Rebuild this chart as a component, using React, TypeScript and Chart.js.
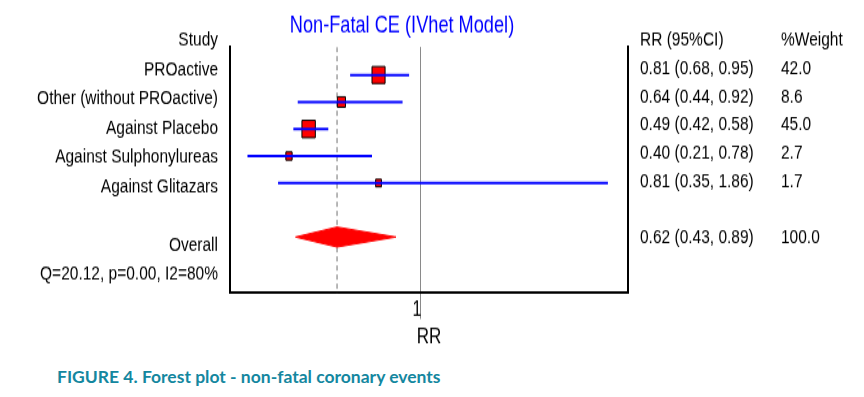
import React, { useEffect, useRef } from "react";
import { Chart, registerables } from "chart.js";

Chart.register(...registerables);

// ---------------- data ----------------
const studyLabels = [
  "PROactive",
  "Other (without PROactive)",
  "Against Placebo",
  "Against Sulphonylureas",
  "Against Glitazars",
];
const studyRR = [0.81, 0.64, 0.49, 0.4, 0.81];
const studyLower = [0.68, 0.44, 0.42, 0.21, 0.35];
const studyUpper = [0.95, 0.92, 0.58, 0.78, 1.86];
const studyWeight = [42.0, 8.6, 45.0, 2.7, 1.7];

const overallLabel = "Overall";
const overallRR = 0.62;
const overallLower = 0.43;
const overallUpper = 0.89;
const overallWeight = 100.0;
const heterogeneityLabel = "Q=20.12, p=0.00, I2=80%";

const xTickValues = [1];
const chartTitle = "Non-Fatal CE (IVhet Model)";
const xAxisTitle = "RR";
const studyHeader = "Study";
const ciHeader = "RR (95%CI)";
const weightHeader = "%Weight";
const figureCaption = "FIGURE 4. Forest plot - non-fatal coronary events";

// ---------------- layout / style ----------------
const STRETCH = 1.3; // the original picture is stretched vertically
const W = 864;
const H = 280; // unstretched canvas height
const CHART_TOP = 36.15;
const CHART_BOTTOM = 225.4;
const LEFT_W = 230;
const CI_W = 141;
const WEIGHT_W = 95;

const HEADER_ROW = 0;
const OVERALL_ROW = 7;
const HET_ROW = 8;
const studyRows = studyLabels.map((_, i) => i + 1);

const Y_MAIN = { min: -0.037, max: 9.074 };
const Y_LEFT = { min: 0.239, max: 8.635 };
const Y_RIGHT = { min: 0.247, max: 8.94 };
const X_RANGE = { min: 0.13, max: 1.952 };

const FONT = "'Liberation Sans', Arial, Helvetica, sans-serif";
const TEXT_SIZE = 15.5;
const BLUE = "#0000ff";
const RED = "#ff0000";
const DIAMOND_HALF = 0.37;

const boxSide = (w: number) => 4 + 1.4 * Math.sqrt(w);

const fmt2 = (v: number) => v.toFixed(2);
const ciText = (r: number, lo: number, hi: number) =>
  `${fmt2(r)} (${fmt2(lo)}, ${fmt2(hi)})`;

const leftLabels = new Map<number, string>([
  [HEADER_ROW, studyHeader],
  ...studyRows.map((r, i) => [r, studyLabels[i]] as [number, string]),
  [OVERALL_ROW, overallLabel],
  [HET_ROW, heterogeneityLabel],
]);
const ciLabels = new Map<number, string>([
  [HEADER_ROW, ciHeader],
  ...studyRows.map(
    (r, i) => [r, ciText(studyRR[i], studyLower[i], studyUpper[i])] as [number, string]
  ),
  [OVERALL_ROW, ciText(overallRR, overallLower, overallUpper)],
]);
const weightLabels = new Map<number, string>([
  [HEADER_ROW, weightHeader],
  ...studyRows.map((r, i) => [r, studyWeight[i].toFixed(1)] as [number, string]),
  [OVERALL_ROW, overallWeight.toFixed(1)],
]);

const labelAxis = (
  labels: Map<number, string>,
  range: { min: number; max: number },
  position: "left" | "right",
  width: number,
  weight: number,
  border: boolean
) => ({
  type: "linear",
  position,
  weight,
  reverse: true,
  min: range.min,
  max: range.max,
  grid: { display: false, drawTicks: false, tickLength: 0 },
  border: { display: border, color: "#000", width: 2 },
  ticks: {
    autoSkip: false,
    padding: 12,
    color: "#000",
    font: { family: FONT, size: TEXT_SIZE },
    callback: (v: number) => labels.get(v) ?? "",
  },
  afterBuildTicks: (s: any) => {
    s.ticks = Array.from(labels.keys()).map((v) => ({ value: v }));
  },
  afterFit: (s: any) => {
    s.width = width;
  },
});

const titlePlugin = {
  id: "forestTitle",
  afterDraw(chart: any) {
    const { ctx, chartArea } = chart;
    ctx.save();
    ctx.font = `18.2px ${FONT}`;
    ctx.fillStyle = BLUE;
    ctx.textAlign = "center";
    ctx.textBaseline = "middle";
    ctx.fillText(chartTitle, (chartArea.left + chartArea.right) / 2 - 27, 20.3);
    ctx.restore();
  },
};

export default function App() {
  const canvasRef = useRef<HTMLCanvasElement | null>(null);

  useEffect(() => {
    if (!canvasRef.current) return;

    const ciDatasets = studyRows.map((row, i) => ({
      type: "line",
      data: [
        { x: studyLower[i], y: row },
        { x: studyUpper[i], y: row },
      ],
      borderColor: BLUE,
      borderWidth: 2,
      pointRadius: 0,
      fill: false,
    }));

    const boxDataset = {
      type: "scatter",
      data: studyRows.map((row, i) => ({ x: studyRR[i], y: row })),
      pointStyle: "rect",
      pointRadius: studyWeight.map((w) => boxSide(w) / Math.SQRT2),
      backgroundColor: RED,
      borderColor: "#000",
      borderWidth: 1,
    };

    const diamondDataset = {
      type: "line",
      data: [
        { x: overallLower, y: OVERALL_ROW },
        { x: overallRR, y: OVERALL_ROW - DIAMOND_HALF },
        { x: overallUpper, y: OVERALL_ROW },
        { x: overallRR, y: OVERALL_ROW + DIAMOND_HALF },
        { x: overallLower, y: OVERALL_ROW },
      ],
      borderColor: RED,
      backgroundColor: RED,
      borderWidth: 1,
      pointRadius: 0,
      fill: "shape",
      tension: 0,
    };

    const overallLine = {
      type: "line",
      data: [
        { x: overallRR, y: Y_MAIN.min },
        { x: overallRR, y: Y_MAIN.max },
      ],
      borderColor: "#707070",
      borderWidth: 1,
      borderDash: [4, 3],
      pointRadius: 0,
      fill: false,
    };

    const chart = new Chart(canvasRef.current, {
      type: "scatter",
      data: {
        datasets: [...ciDatasets, boxDataset, diamondDataset, overallLine] as any,
      },
      options: {
        responsive: false,
        maintainAspectRatio: false,
        devicePixelRatio: 1,
        animation: false,
        layout: { padding: { top: CHART_TOP, left: 0, right: 0, bottom: 0 } },
        plugins: {
          legend: { display: false },
          tooltip: { enabled: false },
          title: { display: false },
        },
        scales: {
          x: {
            type: "linear",
            position: "bottom",
            min: X_RANGE.min,
            max: X_RANGE.max,
            grid: {
              display: true,
              drawOnChartArea: true,
              drawTicks: true,
              color: "#8a8a8a",
              lineWidth: 1,
              tickLength: 20,
            },
            border: { display: true, color: "#000", width: 2 },
            ticks: {
              autoSkip: false,
              padding: -16,
              labelOffset: -3,
              color: "#000",
              font: { family: FONT, size: 16 },
              callback: (v: number) => String(v),
            },
            afterBuildTicks: (s: any) => {
              s.ticks = xTickValues.map((v) => ({ value: v }));
            },
            afterFit: (s: any) => {
              s.height = H - CHART_BOTTOM;
            },
            title: {
              display: true,
              text: xAxisTitle,
              color: "#000",
              font: { family: FONT, size: 17 },
              padding: { top: 0, bottom: 10 },
            },
          },
          y: {
            type: "linear",
            display: false,
            reverse: true,
            min: Y_MAIN.min,
            max: Y_MAIN.max,
          },
          yLeft: labelAxis(leftLabels, Y_LEFT, "left", LEFT_W, 1, true),
          yCI: labelAxis(ciLabels, Y_RIGHT, "right", CI_W, 1, true),
          yWeight: labelAxis(weightLabels, Y_RIGHT, "right", WEIGHT_W, 2, false),
        } as any,
      },
      plugins: [titlePlugin],
    } as any);

    return () => chart.destroy();
  }, []);

  return (
    <div
      style={{
        position: "fixed",
        left: 0,
        top: 0,
        width: W,
        height: 397,
        background: "#fff",
        overflow: "hidden",
      }}
    >
      <div
        style={{
          position: "absolute",
          left: 0,
          top: 0,
          width: W,
          height: H,
          transform: `scaleY(${STRETCH})`,
          transformOrigin: "0 0",
        }}
      >
        <canvas
          ref={canvasRef}
          width={W}
          height={H}
          style={{ display: "block", width: W, height: H }}
        />
      </div>
      <div
        style={{
          position: "absolute",
          left: 57,
          top: 367,
          fontFamily: "Lato, 'Open Sans', sans-serif",
          fontWeight: 700,
          fontSize: 17.5,
          lineHeight: "20px",
          color: "#14879f",
          whiteSpace: "nowrap",
        }}
      >
        {figureCaption}
      </div>
    </div>
  );
}
